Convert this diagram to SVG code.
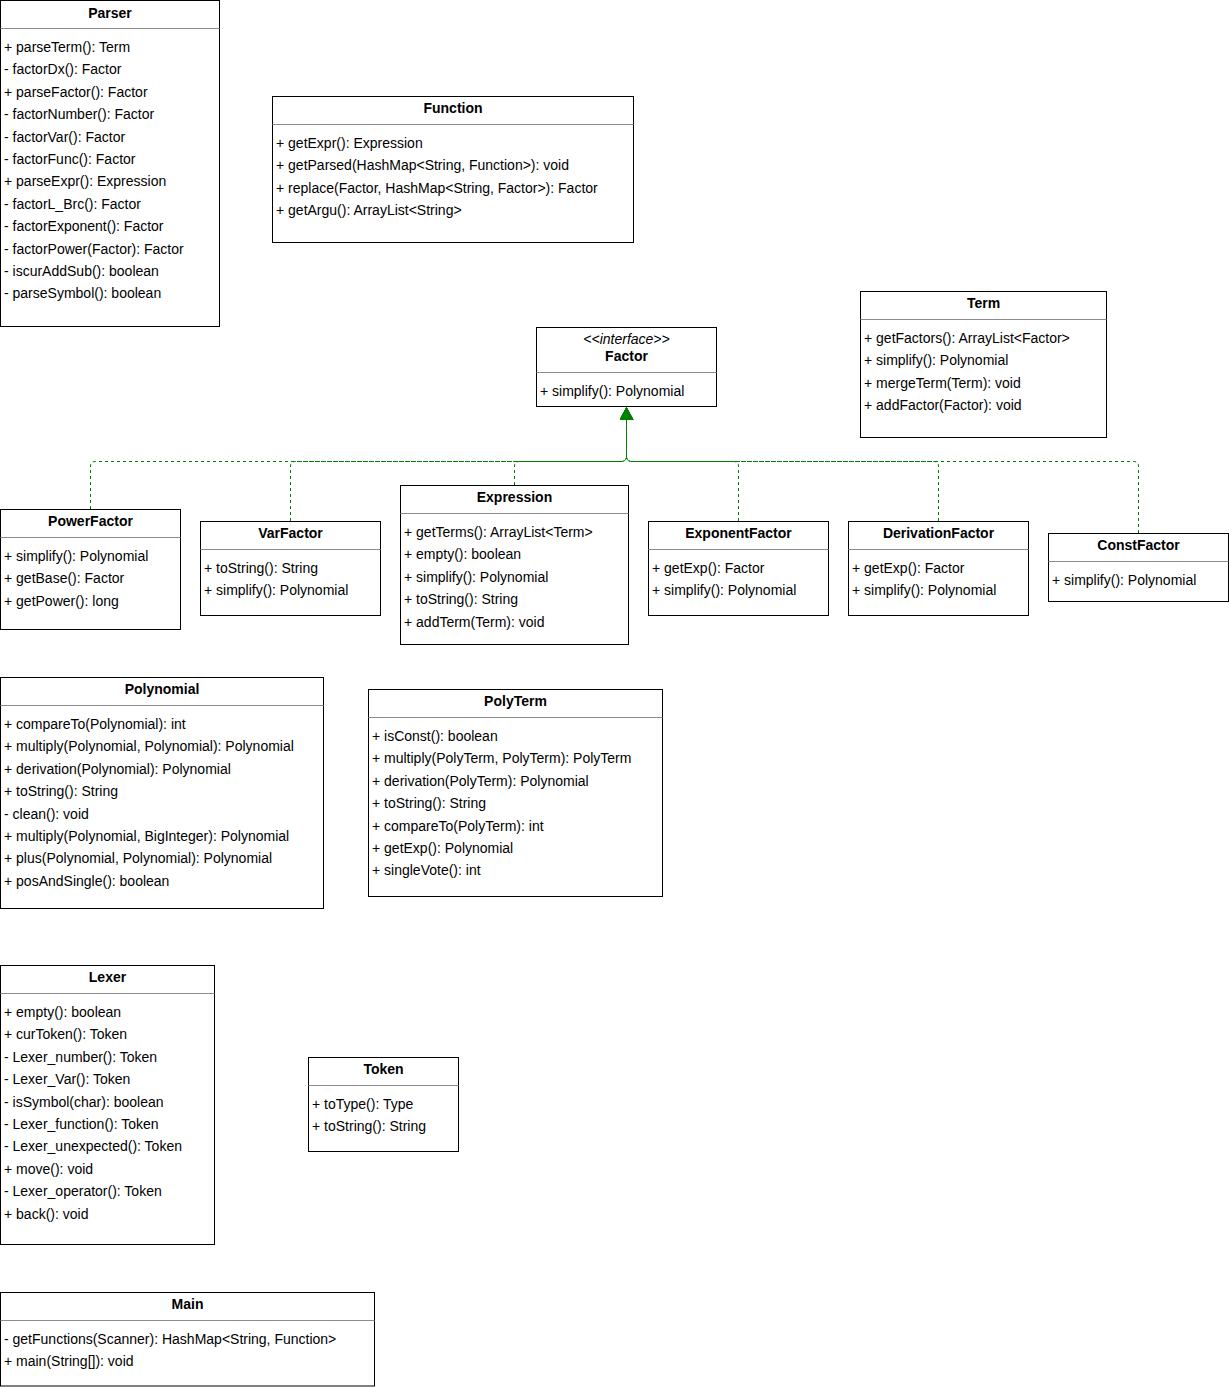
<svg xmlns="http://www.w3.org/2000/svg" width="1229" height="1387" viewBox="0 0 1229 1387">
<style>
.box{fill:#fff;stroke:#000;stroke-width:1}
.sep{stroke:#8c8c8c;stroke-width:1}
text{font-family:"Liberation Sans",Arial,Helvetica,sans-serif;font-size:14px;fill:#000}
.h{font-weight:bold;text-anchor:middle}
.st{font-style:italic;text-anchor:middle}
.edge{fill:none;stroke:#008000;stroke-width:1;stroke-dasharray:3 3}
</style>
<defs>
<marker id="tri" viewBox="0 0 14 14" markerWidth="14" markerHeight="14" markerUnits="userSpaceOnUse" refX="0" refY="7" orient="auto">
<path d="M0,0 L13,7 L0,14 Z" fill="#008000"/>
</marker>
</defs>
<rect width="1229" height="1387" fill="#fff"/>

<g id="connectors">
<path class="edge" d="M90.5,509 V466 Q90.5,461.5 95.5,461.5 H621 Q626.5,461.5 626.5,456 V420" marker-end="url(#tri)"/>
<path class="edge" d="M290.5,521 V466 Q290.5,461.5 295.5,461.5 H621 Q626.5,461.5 626.5,456 V420" marker-end="url(#tri)"/>
<path class="edge" d="M514.5,485 V466 Q514.5,461.5 519.5,461.5 H621 Q626.5,461.5 626.5,456 V420" marker-end="url(#tri)"/>
<path class="edge" d="M738.5,521 V466 Q738.5,461.5 733.5,461.5 H632 Q626.5,461.5 626.5,456 V420" marker-end="url(#tri)"/>
<path class="edge" d="M938.5,521 V466 Q938.5,461.5 933.5,461.5 H632 Q626.5,461.5 626.5,456 V420" marker-end="url(#tri)"/>
<path class="edge" d="M1138.5,533 V466 Q1138.5,461.5 1133.5,461.5 H632 Q626.5,461.5 626.5,456 V420" marker-end="url(#tri)"/>
</g>

<g id="Parser">
<rect class="box" x="0.5" y="0.5" width="219" height="326"/>
<text class="h" x="110" y="18">Parser</text>
<line class="sep" x1="0.5" y1="28.5" x2="219.5" y2="28.5"/>
<text x="4" y="52">+ parseTerm(): Term<tspan x="4" dy="22.4">- factorDx(): Factor</tspan><tspan x="4" dy="22.4">+ parseFactor(): Factor</tspan><tspan x="4" dy="22.4">- factorNumber(): Factor</tspan><tspan x="4" dy="22.4">- factorVar(): Factor</tspan><tspan x="4" dy="22.4">- factorFunc(): Factor</tspan><tspan x="4" dy="22.4">+ parseExpr(): Expression</tspan><tspan x="4" dy="22.4">- factorL_Brc(): Factor</tspan><tspan x="4" dy="22.4">- factorExponent(): Factor</tspan><tspan x="4" dy="22.4">- factorPower(Factor): Factor</tspan><tspan x="4" dy="22.4">- iscurAddSub(): boolean</tspan><tspan x="4" dy="22.4">- parseSymbol(): boolean</tspan></text>
</g>

<g id="Function">
<rect class="box" x="272.5" y="96.5" width="361" height="146"/>
<text class="h" x="453" y="113">Function</text>
<line class="sep" x1="272.5" y1="124.5" x2="633.5" y2="124.5"/>
<text x="276" y="148">+ getExpr(): Expression<tspan x="276" dy="22.4">+ getParsed(HashMap&lt;String, Function&gt;): void</tspan><tspan x="276" dy="22.4">+ replace(Factor, HashMap&lt;String, Factor&gt;): Factor</tspan><tspan x="276" dy="22.4">+ getArgu(): ArrayList&lt;String&gt;</tspan></text>
</g>

<g id="Term">
<rect class="box" x="860.5" y="291.5" width="246" height="146"/>
<text class="h" x="983.5" y="308">Term</text>
<line class="sep" x1="860.5" y1="319.5" x2="1106.5" y2="319.5"/>
<text x="864" y="343">+ getFactors(): ArrayList&lt;Factor&gt;<tspan x="864" dy="22.4">+ simplify(): Polynomial</tspan><tspan x="864" dy="22.4">+ mergeTerm(Term): void</tspan><tspan x="864" dy="22.4">+ addFactor(Factor): void</tspan></text>
</g>

<g id="Factor">
<rect class="box" x="536.5" y="327.5" width="180" height="79"/>
<text class="st" x="626.5" y="344">&lt;&lt;interface&gt;&gt;</text>
<text class="h" x="626.5" y="361">Factor</text>
<line class="sep" x1="536.5" y1="372.5" x2="716.5" y2="372.5"/>
<text x="540" y="396">+ simplify(): Polynomial</text>
</g>

<g id="PowerFactor">
<rect class="box" x="0.5" y="509.5" width="180" height="120"/>
<text class="h" x="90.5" y="526">PowerFactor</text>
<line class="sep" x1="0.5" y1="537.5" x2="180.5" y2="537.5"/>
<text x="4" y="561">+ simplify(): Polynomial<tspan x="4" dy="22.4">+ getBase(): Factor</tspan><tspan x="4" dy="22.4">+ getPower(): long</tspan></text>
</g>

<g id="VarFactor">
<rect class="box" x="200.5" y="521.5" width="180" height="94"/>
<text class="h" x="290.5" y="538">VarFactor</text>
<line class="sep" x1="200.5" y1="549.5" x2="380.5" y2="549.5"/>
<text x="204" y="573">+ toString(): String<tspan x="204" dy="22.4">+ simplify(): Polynomial</tspan></text>
</g>

<g id="Expression">
<rect class="box" x="400.5" y="485.5" width="228" height="159"/>
<text class="h" x="514.5" y="502">Expression</text>
<line class="sep" x1="400.5" y1="513.5" x2="628.5" y2="513.5"/>
<text x="404" y="537">+ getTerms(): ArrayList&lt;Term&gt;<tspan x="404" dy="22.4">+ empty(): boolean</tspan><tspan x="404" dy="22.4">+ simplify(): Polynomial</tspan><tspan x="404" dy="22.4">+ toString(): String</tspan><tspan x="404" dy="22.4">+ addTerm(Term): void</tspan></text>
</g>

<g id="ExponentFactor">
<rect class="box" x="648.5" y="521.5" width="180" height="94"/>
<text class="h" x="738.5" y="538">ExponentFactor</text>
<line class="sep" x1="648.5" y1="549.5" x2="828.5" y2="549.5"/>
<text x="652" y="573">+ getExp(): Factor<tspan x="652" dy="22.4">+ simplify(): Polynomial</tspan></text>
</g>

<g id="DerivationFactor">
<rect class="box" x="848.5" y="521.5" width="180" height="94"/>
<text class="h" x="938.5" y="538">DerivationFactor</text>
<line class="sep" x1="848.5" y1="549.5" x2="1028.5" y2="549.5"/>
<text x="852" y="573">+ getExp(): Factor<tspan x="852" dy="22.4">+ simplify(): Polynomial</tspan></text>
</g>

<g id="ConstFactor">
<rect class="box" x="1048.5" y="533.5" width="180" height="68"/>
<text class="h" x="1138.5" y="550">ConstFactor</text>
<line class="sep" x1="1048.5" y1="561.5" x2="1228.5" y2="561.5"/>
<text x="1052" y="585">+ simplify(): Polynomial</text>
</g>

<g id="Polynomial">
<rect class="box" x="0.5" y="677.5" width="323" height="231"/>
<text class="h" x="162" y="694">Polynomial</text>
<line class="sep" x1="0.5" y1="705.5" x2="323.5" y2="705.5"/>
<text x="4" y="729">+ compareTo(Polynomial): int<tspan x="4" dy="22.4">+ multiply(Polynomial, Polynomial): Polynomial</tspan><tspan x="4" dy="22.4">+ derivation(Polynomial): Polynomial</tspan><tspan x="4" dy="22.4">+ toString(): String</tspan><tspan x="4" dy="22.4">- clean(): void</tspan><tspan x="4" dy="22.4">+ multiply(Polynomial, BigInteger): Polynomial</tspan><tspan x="4" dy="22.4">+ plus(Polynomial, Polynomial): Polynomial</tspan><tspan x="4" dy="22.4">+ posAndSingle(): boolean</tspan></text>
</g>

<g id="PolyTerm">
<rect class="box" x="368.5" y="689.5" width="294" height="207"/>
<text class="h" x="515.5" y="706">PolyTerm</text>
<line class="sep" x1="368.5" y1="717.5" x2="662.5" y2="717.5"/>
<text x="372" y="741">+ isConst(): boolean<tspan x="372" dy="22.4">+ multiply(PolyTerm, PolyTerm): PolyTerm</tspan><tspan x="372" dy="22.4">+ derivation(PolyTerm): Polynomial</tspan><tspan x="372" dy="22.4">+ toString(): String</tspan><tspan x="372" dy="22.4">+ compareTo(PolyTerm): int</tspan><tspan x="372" dy="22.4">+ getExp(): Polynomial</tspan><tspan x="372" dy="22.4">+ singleVote(): int</tspan></text>
</g>

<g id="Lexer">
<rect class="box" x="0.5" y="965.5" width="214" height="279"/>
<text class="h" x="107.5" y="982">Lexer</text>
<line class="sep" x1="0.5" y1="993.5" x2="214.5" y2="993.5"/>
<text x="4" y="1017">+ empty(): boolean<tspan x="4" dy="22.4">+ curToken(): Token</tspan><tspan x="4" dy="22.4">- Lexer_number(): Token</tspan><tspan x="4" dy="22.4">- Lexer_Var(): Token</tspan><tspan x="4" dy="22.4">- isSymbol(char): boolean</tspan><tspan x="4" dy="22.4">- Lexer_function(): Token</tspan><tspan x="4" dy="22.4">- Lexer_unexpected(): Token</tspan><tspan x="4" dy="22.4">+ move(): void</tspan><tspan x="4" dy="22.4">- Lexer_operator(): Token</tspan><tspan x="4" dy="22.4">+ back(): void</tspan></text>
</g>

<g id="Token">
<rect class="box" x="308.5" y="1057.5" width="150" height="94"/>
<text class="h" x="383.5" y="1074">Token</text>
<line class="sep" x1="308.5" y1="1085.5" x2="458.5" y2="1085.5"/>
<text x="312" y="1109">+ toType(): Type<tspan x="312" dy="22.4">+ toString(): String</tspan></text>
</g>

<g id="Main">
<rect class="box" x="0.5" y="1292.5" width="374" height="93.5"/>
<text class="h" x="187.5" y="1309">Main</text>
<line class="sep" x1="0.5" y1="1320.5" x2="374.5" y2="1320.5"/>
<text x="4" y="1344">- getFunctions(Scanner): HashMap&lt;String, Function&gt;<tspan x="4" dy="22.4">+ main(String[]): void</tspan></text>
</g>
</svg>
